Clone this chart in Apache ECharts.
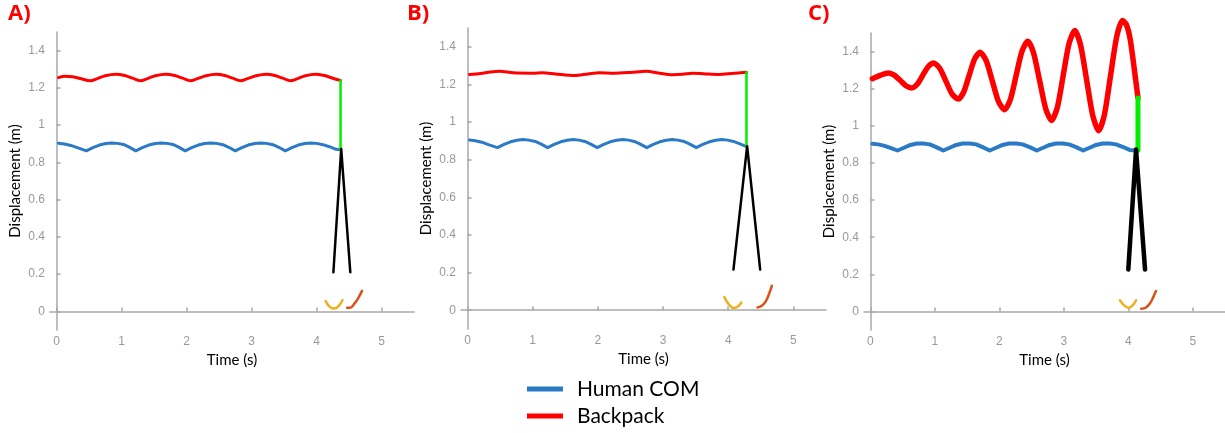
<!DOCTYPE html>
<html>
<head>
<meta charset="utf-8">
<script src="https://cdn.jsdelivr.net/npm/echarts@6/dist/echarts.min.js"></script>
<style>
  html, body { margin: 0; padding: 0; background: #fff; }
  #chart { width: 1225px; height: 433px; }
</style>
</head>
<body>
<div id="chart"></div>
<script>
// Tick positions shared by the three panels
const tickX = [0, 1, 2, 3, 4, 5];
const tickY = [0, 0.2, 0.4, 0.6, 0.8, 1, 1.2, 1.4];
const panelLabels = ['A)', 'B)', 'C)'];

// Panel A: rigid backpack
const comA = [[0.03,0.903],[0.12,0.899],[0.22,0.891],[0.32,0.879],[0.46,0.862],[0.56,0.879],[0.66,0.893],[0.76,0.901],[0.85,0.904],[0.94,0.902],[1.03,0.896],[1.12,0.882],[1.22,0.862],[1.32,0.879],[1.42,0.893],[1.52,0.901],[1.61,0.904],[1.70,0.902],[1.79,0.896],[1.88,0.882],[1.98,0.862],[2.08,0.879],[2.18,0.893],[2.28,0.901],[2.37,0.904],[2.46,0.902],[2.56,0.895],[2.65,0.881],[2.75,0.862],[2.85,0.879],[2.95,0.893],[3.05,0.901],[3.14,0.904],[3.23,0.902],[3.33,0.895],[3.42,0.881],[3.52,0.862],[3.62,0.879],[3.72,0.893],[3.82,0.901],[3.91,0.904],[4.00,0.902],[4.10,0.895],[4.20,0.884],[4.30,0.870],[4.37,0.868]];
const packA = [[0.03,1.255],[0.13,1.262],[0.25,1.260],[0.38,1.249],[0.52,1.238],[0.63,1.250],[0.75,1.265],[0.91,1.273],[1.05,1.266],[1.17,1.252],[1.29,1.238],[1.40,1.250],[1.52,1.265],[1.68,1.273],[1.82,1.266],[1.94,1.252],[2.06,1.238],[2.17,1.250],[2.30,1.265],[2.46,1.273],[2.59,1.266],[2.71,1.252],[2.83,1.238],[2.94,1.250],[3.07,1.265],[3.23,1.273],[3.36,1.266],[3.48,1.252],[3.60,1.238],[3.71,1.250],[3.83,1.265],[3.98,1.273],[4.12,1.266],[4.25,1.252],[4.37,1.240]];
const linkA = [[4.37,1.240],[4.37,0.868]];
const legsA = [[4.26,0.21],[4.38,0.872],[4.52,0.21]];
const footLA = [[4.14,0.055],[4.19,0.030],[4.26,0.015],[4.33,0.025],[4.40,0.060]];
const footRA = [[4.47,0.020],[4.52,0.020],[4.58,0.040],[4.64,0.070],[4.70,0.110]];

// Panel B: damped backpack
const comB = [[0.03,0.905],[0.12,0.901],[0.22,0.893],[0.32,0.880],[0.46,0.864],[0.56,0.881],[0.66,0.895],[0.76,0.903],[0.85,0.907],[0.94,0.904],[1.04,0.897],[1.13,0.883],[1.23,0.864],[1.33,0.881],[1.43,0.895],[1.53,0.903],[1.62,0.907],[1.71,0.904],[1.80,0.897],[1.89,0.883],[1.99,0.864],[2.09,0.881],[2.19,0.895],[2.29,0.903],[2.38,0.907],[2.47,0.904],[2.56,0.897],[2.65,0.883],[2.75,0.864],[2.85,0.881],[2.95,0.895],[3.05,0.903],[3.14,0.907],[3.23,0.904],[3.32,0.897],[3.41,0.883],[3.51,0.864],[3.61,0.881],[3.71,0.895],[3.81,0.903],[3.90,0.907],[3.99,0.904],[4.08,0.897],[4.18,0.884],[4.28,0.870]];
const packB = [[0.03,1.253],[0.20,1.258],[0.35,1.266],[0.49,1.270],[0.70,1.262],[1.00,1.260],[1.15,1.262],[1.35,1.256],[1.64,1.248],[1.85,1.256],[2.02,1.262],[2.25,1.260],[2.50,1.264],[2.74,1.270],[2.95,1.260],[3.14,1.252],[3.30,1.254],[3.45,1.260],[3.65,1.256],[3.86,1.253],[4.05,1.258],[4.28,1.265]];
const linkB = [[4.28,1.265],[4.28,0.870]];
const legsB = [[4.08,0.216],[4.29,0.872],[4.49,0.216]];
const footLB = [[3.94,0.070],[4.00,0.035],[4.08,0.012],[4.15,0.020],[4.20,0.040]];
const footRB = [[4.45,0.015],[4.52,0.025],[4.58,0.050],[4.63,0.090],[4.67,0.130]];

// Panel C: resonant backpack
const comC = [[0.03,0.903],[0.12,0.900],[0.22,0.892],[0.32,0.880],[0.42,0.867],[0.52,0.882],[0.62,0.897],[0.72,0.905],[0.82,0.905],[0.92,0.900],[1.02,0.885],[1.13,0.867],[1.23,0.882],[1.33,0.897],[1.43,0.905],[1.54,0.905],[1.64,0.900],[1.74,0.885],[1.85,0.867],[1.95,0.882],[2.05,0.897],[2.15,0.905],[2.26,0.905],[2.36,0.900],[2.47,0.885],[2.58,0.867],[2.68,0.882],[2.78,0.897],[2.88,0.905],[2.98,0.905],[3.08,0.900],[3.19,0.885],[3.30,0.867],[3.40,0.882],[3.50,0.897],[3.60,0.905],[3.71,0.905],[3.81,0.900],[3.91,0.887],[4.02,0.870],[4.13,0.867]];
const packC = [[0.03,1.254],[0.15,1.272],[0.28,1.285],[0.37,1.273],[0.46,1.245],[0.55,1.216],[0.64,1.204],[0.725,1.224],[0.81,1.271],[0.895,1.318],[0.98,1.338],[1.075,1.310],[1.17,1.241],[1.265,1.172],[1.36,1.144],[1.445,1.181],[1.53,1.270],[1.615,1.359],[1.70,1.396],[1.795,1.351],[1.89,1.242],[1.985,1.132],[2.08,1.087],[2.17,1.141],[2.26,1.271],[2.35,1.401],[2.44,1.455],[2.53,1.393],[2.625,1.242],[2.72,1.091],[2.81,1.029],[2.90,1.100],[2.99,1.271],[3.08,1.442],[3.17,1.513],[3.26,1.434],[3.355,1.244],[3.45,1.053],[3.54,0.974],[3.63,1.061],[3.725,1.271],[3.82,1.480],[3.91,1.567],[3.97,1.545],[4.03,1.465],[4.10,1.286],[4.15,1.150]];
const linkC = [[4.15,1.150],[4.15,0.868]];
const legsC = [[4.00,0.226],[4.12,0.872],[4.26,0.226]];
const footLC = [[3.87,0.060],[3.93,0.035],[4.00,0.020],[4.06,0.030],[4.12,0.060]];
const footRC = [[4.20,0.015],[4.27,0.020],[4.34,0.045],[4.39,0.080],[4.43,0.110]];

const COLORS = { com: '#2a7ac6', pack: '#ff0000', link: '#00ee00', legs: '#000000', footL: '#edb120', footR: '#d95319' };
const FONT = 'Lato, "Open Sans", sans-serif';
const AXIS_GRAY = '#a8a8a8';

const grids = [
  { left: 50, top: 32, width: 364, height: 298 },
  { left: 461, top: 28, width: 365, height: 301 },
  { left: 864, top: 33, width: 364, height: 297 }
];

function xAxisFor(i) {
  return {
    type: 'value', gridIndex: i, min: -0.1, max: 5.5,
    axisLine: { lineStyle: { color: AXIS_GRAY, width: 1.5 } },
    axisTick: { inside: true, length: 4, customValues: tickX, lineStyle: { color: AXIS_GRAY, width: 1.5 } },
    axisLabel: { customValues: tickX, color: '#999', fontSize: 12, margin: 6, fontFamily: 'Liberation Sans' },
    splitLine: { show: false },
    name: 'Time (s)', nameLocation: 'middle', nameGap: 17,
    nameTextStyle: { color: '#000', fontSize: 15, fontFamily: FONT }
  };
}
function yAxisFor(i) {
  return {
    type: 'value', gridIndex: i, min: -0.1, max: 1.5,
    axisLine: { show: true, lineStyle: { color: AXIS_GRAY, width: 1.5 } },
    axisTick: { show: true, inside: true, length: 4, customValues: tickY, lineStyle: { color: AXIS_GRAY, width: 1.5 } },
    axisLabel: { customValues: tickY, color: '#999', fontSize: 12, margin: 5, fontFamily: 'Liberation Sans' },
    splitLine: { show: false },
    name: 'Displacement (m)', nameLocation: 'middle', nameGap: 27,
    nameTextStyle: { color: '#000', fontSize: 15, fontFamily: FONT }
  };
}
function line(name, data, i, color, width, smooth, z) {
  return {
    type: 'line', name: name, data: data, xAxisIndex: i, yAxisIndex: i,
    symbol: 'none', showSymbol: false, smooth: smooth, clip: false, z: z,
    lineStyle: { color: color, width: width, cap: 'round', join: 'round' },
    itemStyle: { color: color }, silent: true
  };
}

const panels = [
  { com: comA, pack: packA, link: linkA, legs: legsA, fl: footLA, fr: footRA, w: { com: 3, pack: 3, link: 2.5, legs: 2.5 }, packSmooth: 0.3 },
  { com: comB, pack: packB, link: linkB, legs: legsB, fl: footLB, fr: footRB, w: { com: 3, pack: 3, link: 2.5, legs: 2.5 }, packSmooth: 0.3 },
  { com: comC, pack: packC, link: linkC, legs: legsC, fl: footLC, fr: footRC, w: { com: 4, pack: 5.5, link: 5, legs: 4.5 }, packSmooth: 0.25 }
];

const series = [];
panels.forEach((p, i) => {
  series.push(line('Human COM', p.com, i, COLORS.com, p.w.com, false, 3));
  series.push(line('Backpack', p.pack, i, COLORS.pack, p.w.pack, p.packSmooth, 3));
  series.push(line('link', p.link, i, COLORS.link, p.w.link, false, 4));
  series.push(line('legs', p.legs, i, COLORS.legs, p.w.legs, false, 5));
  series.push(line('footL', p.fl, i, COLORS.footL, 2.5, 0.4, 4));
  series.push(line('footR', p.fr, i, COLORS.footR, 2.5, 0.4, 4));
});

function legendRow(name, top) {
  return {
    data: [name], left: 527, top: top, padding: 0,
    icon: 'rect', itemWidth: 36, itemHeight: 5,
    selectedMode: false,
    textStyle: { color: '#000', fontSize: 21, fontFamily: FONT, lineHeight: 24, padding: [0, 0, 0, 9] }
  };
}

const chart = echarts.init(document.getElementById('chart'), null, { renderer: 'canvas' });
chart.setOption({
  animation: false,
  backgroundColor: '#fff',
  title: panelLabels.map((t, i) => ({
    text: t, left: [8, 407, 808][i], top: 3, padding: 0,
    textStyle: { color: '#f00', fontSize: 22, fontWeight: 'bold', fontFamily: '"Open Sans", sans-serif' }
  })),
  grid: grids,
  xAxis: [0, 1, 2].map(xAxisFor),
  yAxis: [0, 1, 2].map(yAxisFor),
  legend: [legendRow('Human COM', 377), legendRow('Backpack', 404)],
  series: series
});
</script>
</body>
</html>
